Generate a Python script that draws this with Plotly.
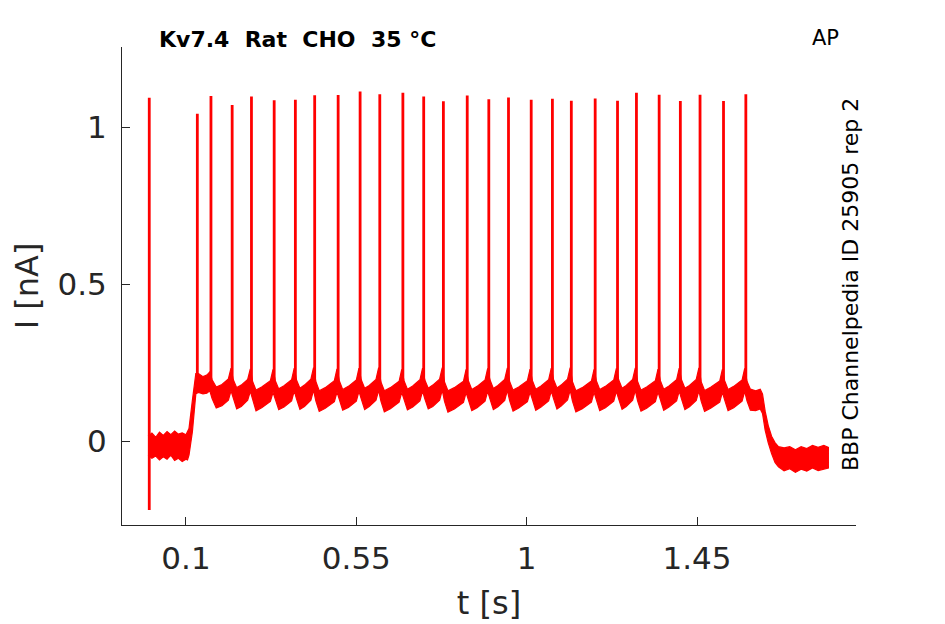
import plotly.graph_objects as go

# spike times [s] and peak currents [nA]
spike_t = [0.003, 0.130, 0.166, 0.222, 0.273, 0.333, 0.389, 0.440, 0.502, 0.560,
           0.612, 0.673, 0.728, 0.780, 0.843, 0.900, 0.952, 1.012, 1.068, 1.118,
           1.181, 1.240, 1.290, 1.350, 1.406, 1.458, 1.520, 1.579]
spike_peak = [1.093, 1.042, 1.099, 1.070, 1.097, 1.085, 1.087, 1.101, 1.102, 1.113,
              1.104, 1.109, 1.097, 1.082, 1.100, 1.088, 1.094, 1.087, 1.090, 1.084,
              1.091, 1.084, 1.109, 1.103, 1.083, 1.103, 1.083, 1.104]
spike_base = [-0.220] + [0.185] * 27

# envelope of the overlapping repetitions (upper / lower edge of the red band)
band_t = [
    0.000, 0.010, 0.020, 0.030, 0.040, 0.050, 0.060, 0.070, 0.080, 0.090, 0.100, 0.104,
    0.108, 0.117, 0.126,
    0.133, 0.145, 0.155, 0.163,
    0.169, 0.180, 0.195, 0.212, 0.219,
    0.225, 0.234, 0.246, 0.263, 0.270,
    0.276, 0.285, 0.300, 0.323, 0.330,
    0.336, 0.345, 0.359, 0.379, 0.386,
    0.392, 0.401, 0.413, 0.430, 0.437,
    0.443, 0.452, 0.468, 0.492, 0.499,
    0.505, 0.514, 0.529, 0.550, 0.557,
    0.563, 0.572, 0.584, 0.602, 0.609,
    0.615, 0.624, 0.640, 0.663, 0.670,
    0.676, 0.685, 0.699, 0.718, 0.725,
    0.731, 0.740, 0.752, 0.770, 0.777,
    0.783, 0.792, 0.809, 0.833, 0.840,
    0.846, 0.855, 0.869, 0.890, 0.897,
    0.903, 0.912, 0.924, 0.942, 0.949,
    0.955, 0.964, 0.979, 1.002, 1.009,
    1.015, 1.024, 1.038, 1.058, 1.065,
    1.071, 1.080, 1.091, 1.108, 1.115,
    1.121, 1.130, 1.147, 1.171, 1.178,
    1.184, 1.193, 1.208, 1.230, 1.237,
    1.243, 1.252, 1.263, 1.280, 1.287,
    1.293, 1.302, 1.317, 1.340, 1.347,
    1.353, 1.362, 1.376, 1.396, 1.403,
    1.409, 1.418, 1.430, 1.448, 1.455,
    1.461, 1.470, 1.486, 1.510, 1.517,
    1.523, 1.532, 1.547, 1.569, 1.576,
    1.582, 1.591, 1.605, 1.617, 1.623, 1.630, 1.638, 1.647, 1.656, 1.665,
    1.680, 1.695, 1.710, 1.725, 1.740, 1.755, 1.770, 1.785, 1.797,
]
band_hi = [
    0.015, 0.025, 0.012, 0.028, 0.018, 0.030, 0.020, 0.032, 0.022, 0.026, 0.020, 0.028,
    0.040, 0.130, 0.215,
    0.215, 0.205, 0.210, 0.220,
    0.195, 0.172, 0.180, 0.198, 0.232,
    0.195, 0.170, 0.178, 0.196, 0.230,
    0.190, 0.162, 0.172, 0.192, 0.228,
    0.192, 0.166, 0.176, 0.195, 0.232,
    0.194, 0.168, 0.178, 0.197, 0.234,
    0.190, 0.160, 0.170, 0.192, 0.230,
    0.192, 0.164, 0.174, 0.194, 0.232,
    0.195, 0.168, 0.177, 0.196, 0.234,
    0.188, 0.160, 0.170, 0.190, 0.228,
    0.192, 0.165, 0.175, 0.195, 0.232,
    0.194, 0.168, 0.178, 0.197, 0.234,
    0.188, 0.160, 0.170, 0.190, 0.228,
    0.192, 0.164, 0.174, 0.194, 0.231,
    0.195, 0.167, 0.177, 0.196, 0.233,
    0.190, 0.162, 0.172, 0.192, 0.229,
    0.193, 0.165, 0.175, 0.195, 0.232,
    0.196, 0.169, 0.178, 0.197, 0.234,
    0.189, 0.160, 0.170, 0.191, 0.228,
    0.192, 0.164, 0.174, 0.194, 0.231,
    0.195, 0.168, 0.177, 0.196, 0.233,
    0.190, 0.162, 0.172, 0.192, 0.229,
    0.193, 0.165, 0.175, 0.195, 0.232,
    0.195, 0.168, 0.177, 0.196, 0.233,
    0.189, 0.161, 0.171, 0.191, 0.228,
    0.192, 0.164, 0.174, 0.194, 0.231,
    0.190, 0.165, 0.160, 0.165, 0.150, 0.095, 0.050, 0.015, -0.005, -0.018,
    -0.022, -0.018, -0.028, -0.018, -0.024, -0.014, -0.020, -0.014, -0.020,
]
band_lo = [
    -0.045, -0.055, -0.048, -0.060, -0.050, -0.058, -0.045, -0.062, -0.055, -0.065, -0.058, -0.060,
    -0.045, 0.030, 0.150,
    0.155, 0.150, 0.152, 0.160,
    0.135, 0.105, 0.112, 0.130, 0.160,
    0.135, 0.102, 0.110, 0.130, 0.158,
    0.130, 0.096, 0.106, 0.126, 0.155,
    0.132, 0.100, 0.108, 0.128, 0.160,
    0.134, 0.101, 0.110, 0.130, 0.162,
    0.128, 0.094, 0.104, 0.125, 0.156,
    0.131, 0.098, 0.107, 0.127, 0.158,
    0.134, 0.100, 0.110, 0.130, 0.161,
    0.127, 0.093, 0.103, 0.124, 0.155,
    0.132, 0.099, 0.108, 0.128, 0.159,
    0.134, 0.102, 0.110, 0.130, 0.162,
    0.126, 0.092, 0.102, 0.123, 0.154,
    0.131, 0.097, 0.106, 0.127, 0.158,
    0.134, 0.100, 0.109, 0.129, 0.161,
    0.129, 0.095, 0.105, 0.125, 0.156,
    0.132, 0.098, 0.108, 0.128, 0.159,
    0.135, 0.102, 0.111, 0.131, 0.162,
    0.127, 0.093, 0.103, 0.124, 0.155,
    0.131, 0.097, 0.106, 0.127, 0.158,
    0.134, 0.101, 0.110, 0.130, 0.161,
    0.128, 0.095, 0.104, 0.125, 0.156,
    0.132, 0.098, 0.108, 0.128, 0.159,
    0.134, 0.100, 0.109, 0.129, 0.160,
    0.127, 0.094, 0.104, 0.124, 0.155,
    0.131, 0.097, 0.106, 0.127, 0.158,
    0.128, 0.098, 0.097, 0.102, 0.088, 0.035, -0.005, -0.040, -0.068, -0.082,
    -0.095, -0.088, -0.100, -0.090, -0.096, -0.086, -0.094, -0.090, -0.086,
]

x_ticks = [0.1, 0.55, 1, 1.45]
x_ticklabels = ["0.1", "0.55", "1", "1.45"]
y_ticks = [0, 0.5, 1]
y_ticklabels = ["0", "0.5", "1"]

RED = "#ff0000"
AXC = "#262626"
FONT = "DejaVu Sans"

fig = go.Figure()

# band: closed polygon upper edge forward, lower edge back
fig.add_trace(go.Scatter(
    x=band_t + band_t[::-1],
    y=band_hi + band_lo[::-1],
    mode="lines",
    fill="toself",
    fillcolor=RED,
    line=dict(color=RED, width=1.2),
    hoverinfo="skip",
    showlegend=False,
))

# spikes as vertical strokes
sx, sy = [], []
for t, b, p in zip(spike_t, spike_base, spike_peak):
    sx += [t, t, None]
    sy += [b, p, None]
fig.add_trace(go.Scatter(
    x=sx, y=sy, mode="lines",
    line=dict(color=RED, width=2.8),
    showlegend=False,
))

# the page body adds an 8px offset, so the figure is 8px smaller
OFF = 8
W, H = 945 - OFF, 624 - OFF
L, R, T, B = 122 - OFF, 89, 47 - OFF, 99


def px(xp):
    return (xp - OFF - L) / (W - L - R)


def py(yp):
    return (H - B - (yp - OFF)) / (H - T - B)


fig.update_layout(
    width=W, height=H,
    margin=dict(l=L, r=R, t=T, b=B),
    paper_bgcolor="white",
    plot_bgcolor="white",
    font=dict(family=FONT, color=AXC),
    xaxis=dict(
        range=[-0.069, 1.870],
        tickvals=x_ticks, ticktext=x_ticklabels,
        ticks="inside", ticklen=8, tickcolor=AXC, tickwidth=1,
        showline=True, linecolor=AXC, linewidth=1,
        showgrid=False, zeroline=False, automargin=False,
        tickfont=dict(size=31, color=AXC),
        ticklabelstandoff=6,
        title=dict(text="t [s]", font=dict(size=32, color=AXC), standoff=16),
    ),
    yaxis=dict(
        range=[-0.2675, 1.2548],
        tickvals=y_ticks, ticktext=y_ticklabels,
        ticks="inside", ticklen=8, tickcolor=AXC, tickwidth=1,
        showline=True, linecolor=AXC, linewidth=1,
        showgrid=False, zeroline=False, automargin=False,
        tickfont=dict(size=31, color=AXC),
        ticklabelstandoff=8,
        title=dict(text="I [nA]", font=dict(size=32, color=AXC), standoff=12),
    ),
    annotations=[
        dict(text="<b>Kv7.4\u00a0 Rat\u00a0 CHO\u00a0 35 °C</b>",
             xref="paper", yref="paper", x=px(157), y=py(40),
             xanchor="left", yanchor="middle", showarrow=False,
             font=dict(family=FONT, size=22, color="black")),
        dict(text="AP",
             xref="paper", yref="paper", x=px(825), y=py(38),
             xanchor="center", yanchor="middle", showarrow=False,
             font=dict(family=FONT, size=21, color="black")),
        dict(text="BBP Channelpedia ID 25905 rep 2",
             xref="paper", yref="paper", x=px(850), y=py(285),
             xanchor="center", yanchor="middle", showarrow=False, textangle=-90,
             font=dict(family=FONT, size=22, color="black")),
    ],
)

fig.write_html("out.html")
